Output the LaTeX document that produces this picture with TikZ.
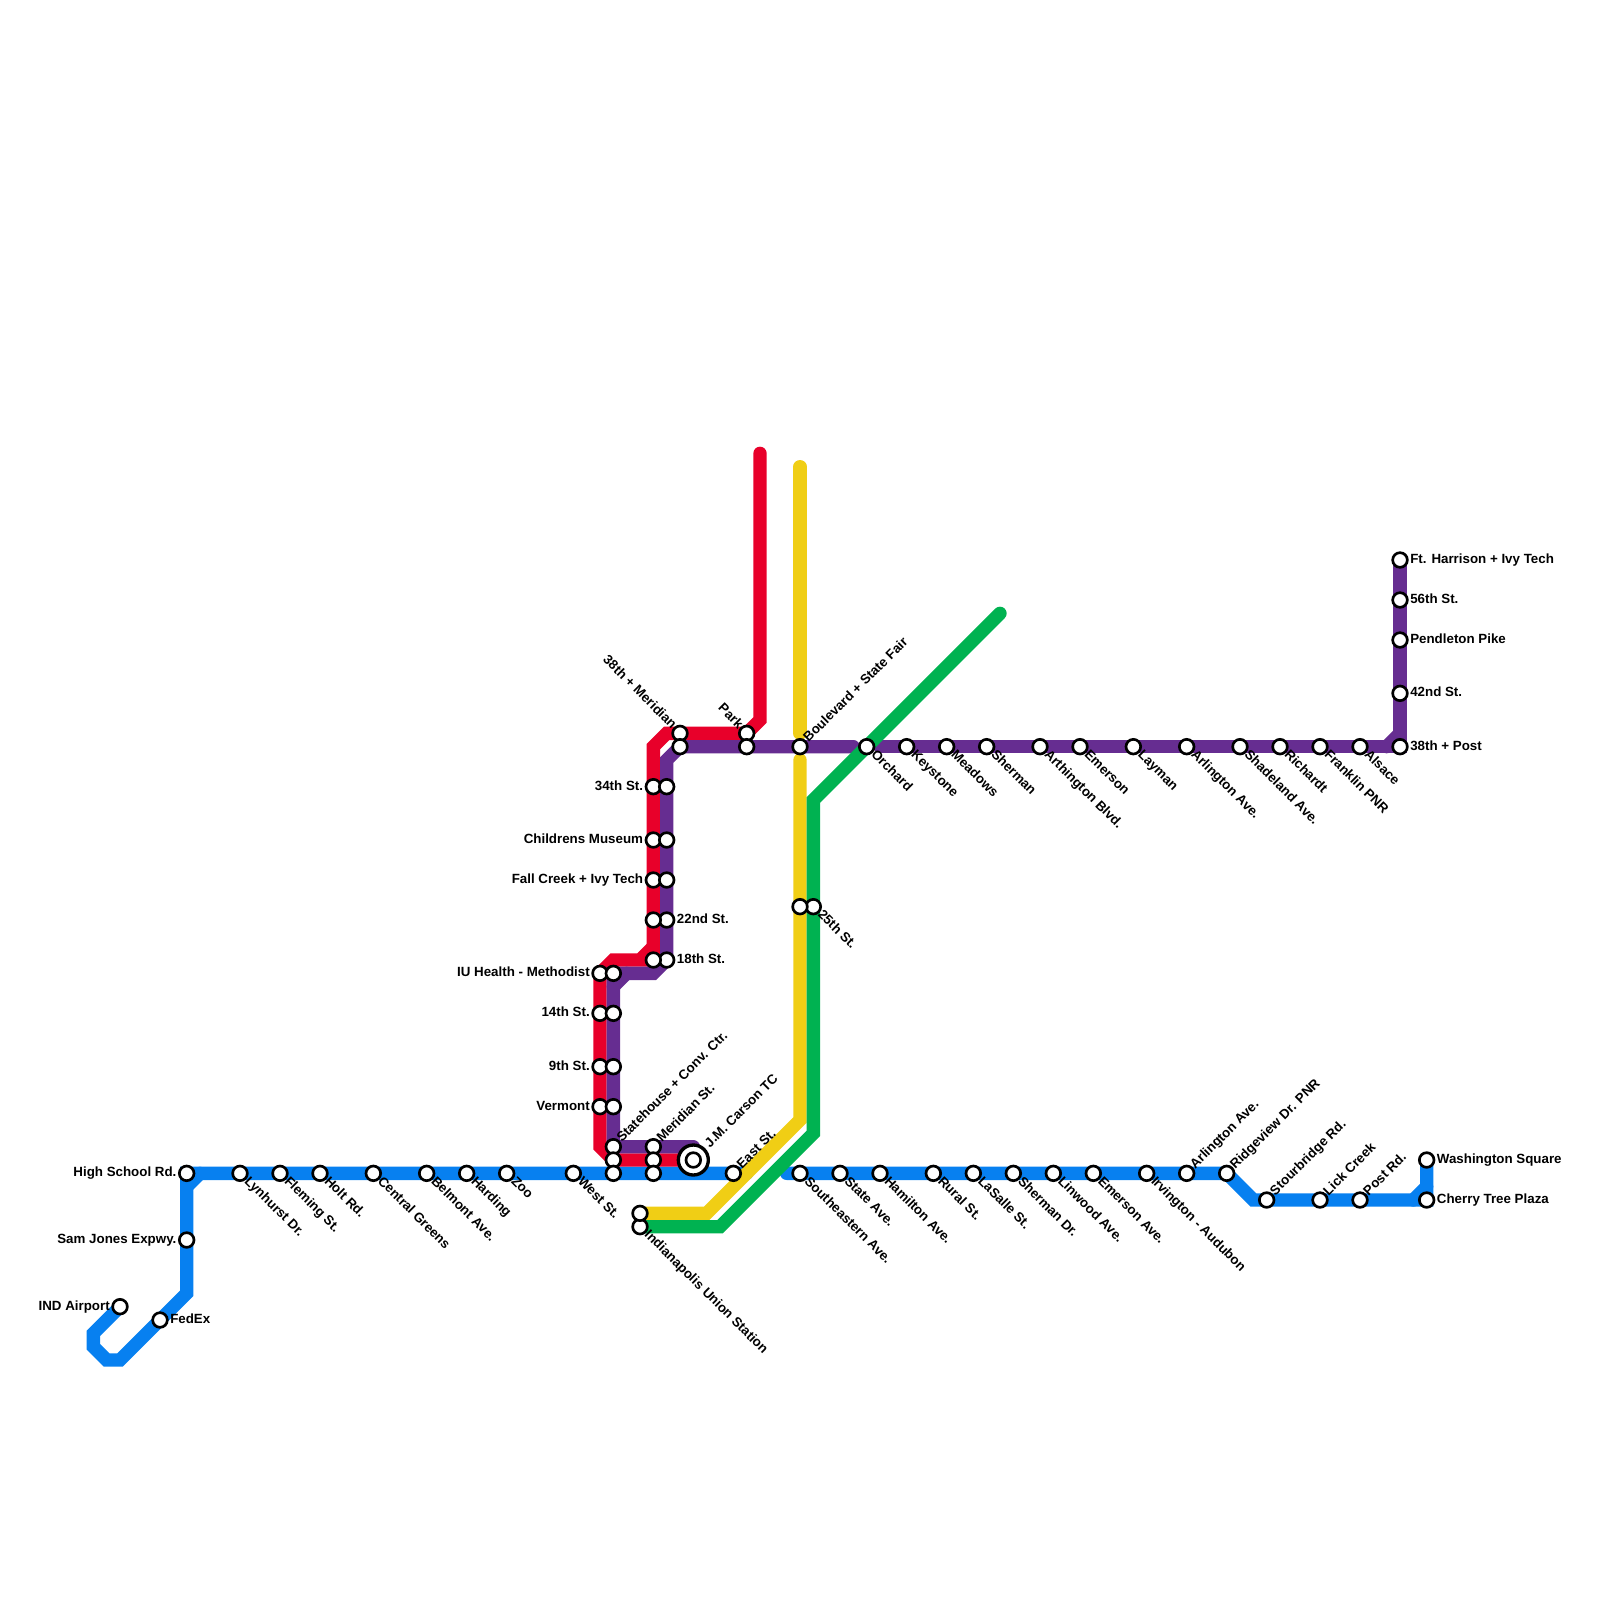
\documentclass[tikz,border=0pt]{standalone}
\usepackage{fontspec}
\setmainfont{Liberation Sans}
\usepackage{xcolor}
\usetikzlibrary{backgrounds}
\definecolor{lineblue}{HTML}{0780F0}
\definecolor{linered}{HTML}{E8002A}
\definecolor{linepurple}{HTML}{662D91}
\definecolor{lineyellow}{HTML}{F0CE15}
\definecolor{linegreen}{HTML}{00B251}
\tikzset{
  stn/.style={circle,draw=black,fill=white,line width=2pt,minimum size=11pt,inner sep=0pt},
  hubstn/.style={circle,draw=black,fill=white,line width=2.5pt,minimum size=22.5pt,inner sep=0pt},
  lbl/.style={font=\fontsize{10}{12}\selectfont\bfseries,inner sep=0pt,text height=7.2pt,text depth=2.1pt},
  lblse/.style={lbl,rotate=-45,anchor=west,xshift=6.5pt},
  lblne/.style={lbl,rotate=45,anchor=west,xshift=6.5pt},
  lblnw/.style={lbl,rotate=-45,anchor=east,xshift=-6.5pt},
  lblr/.style={lbl,anchor=west,xshift=7.5pt},
  lbll/.style={lbl,anchor=east,xshift=-7.5pt},
  route/.style={line width=10pt,line cap=round,line join=miter}
}
\begin{document}
\begin{tikzpicture}[x=10pt,y=-10pt]
  \useasboundingbox (0,0) rectangle (120,120);
  % stations with a name beside them
  \foreach \nm/\x/\y/\s/\n in {
    air/9/98/lbll/IND Airport,fed/12/99/lblr/FedEx,sam/14/93/lbll/Sam Jones Expwy.,hsr/14/88/lbll/High School Rd.,
    b18/18/88/lblse/Lynhurst Dr.,b21/21/88/lblse/Fleming St.,b24/24/88/lblse/Holt Rd.,b28/28/88/lblse/Central Greens,
    b32/32/88/lblse/Belmont Ave.,b35/35/88/lblse/Harding,b38/38/88/lblse/Zoo,b43/43/88/lblse/West St.,
    b55/55/88/lblne/East St.,b60/60/88/lblse/Southeastern Ave.,b63/63/88/lblse/State Ave.,b66/66/88/lblse/Hamilton Ave.,
    b70/70/88/lblse/Rural St.,b73/73/88/lblse/LaSalle St.,b76/76/88/lblse/Sherman Dr.,b79/79/88/lblse/Linwood Ave.,
    b82/82/88/lblse/Emerson Ave.,b86/86/88/lblse/Irvington - Audubon,b89/89/88/lblne/Arlington Ave.,b92/92/88/lblne/Ridgeview Dr. PNR,
    b95/95/90/lblne/Stourbridge Rd.,b99/99/90/lblne/Lick Creek,b102/102/90/lblne/Post Rd.,
    cher/107/90/lblr/Cherry Tree Plaza,wash/107/87/lblr/Washington Square,
    w73/45/73/lbll/IU Health - Methodist,w76/45/76/lbll/14th St.,w80/45/80/lbll/9th St.,w83/45/83/lbll/Vermont,
    v86/46/86/lblne/Statehouse + Conv. Ctr.,t86/49/86/lblne/Meridian St.,
    t59/49/59/lbll/34th St.,t63/49/63/lbll/Childrens Museum,t66/49/66/lbll/Fall Creek + Ivy Tech,
    u69/50/69/lblr/22nd St.,u72/50/72/lblr/18th St.,
    n55/51/55/lblnw/38th + Meridian,k55/56/55/lblnw/Park,y56/60/56/lblne/Boulevard + State Fair,
    g68/61/68/lblse/25th St.,i92/48/92/lblse/Indianapolis Union Station,
    p65/65/56/lblse/Orchard,p68/68/56/lblse/Keystone,p71/71/56/lblse/Meadows,p74/74/56/lblse/Sherman,
    p78/78/56/lblse/Arthington Blvd.,p81/81/56/lblse/Emerson,p85/85/56/lblse/Layman,p89/89/56/lblse/Arlington Ave.,
    p93/93/56/lblse/Shadeland Ave.,p96/96/56/lblse/Richardt,p99/99/56/lblse/Franklin PNR,p102/102/56/lblse/Alsace,
    q56/105/56/lblr/38th + Post,q52/105/52/lblr/42nd St.,q48/105/48/lblr/Pendleton Pike,q45/105/45/lblr/56th St.,q42/105/42/lblr/Ft. Harrison + Ivy Tech}{
    \node[stn] (\nm) at (\x,\y) {};
    \node[\s] (l\nm) at (\nm) {\n};
  }
  % stations with no name
  \foreach \nm/\x/\y in {v73/46/73,v76/46/76,v80/46/80,v83/46/83,v87/46/87,b46/46/88,t87/49/87,b49/49/88,
    t69/49/69,t72/49/72,u59/50/59,u63/50/63,u66/50/66,n56/51/56,k56/56/56,y68/60/68,i91/48/91}
    \node[stn] (\nm) at (\x,\y) {};
  \node[hubstn] (hub) at (52,87) {};
  \node[stn] (jmc) at (hub) {};
  \node[lblne,xshift=8.5pt] (ljmc) at (jmc) {J.M. Carson TC};
  % corners and loose ends of the routes
  \foreach \nm/\p in {bA/{7,100},bB/{7,101},bC/{8,102},bD/{9,102},bE/{14,97},bF/{14,89},bG/{15,88},bH/{56,88},bJ/{59,88},
    bK/{94,90},bL/{106,90},bM/{107,89},
    rA/{45,86},rB/{46,72},rC/{48,72},rD/{49,71},rE/{49,56},rF/{50,55},rG/{57,54},rH/{57,34},
    pA/{49,73},pB/{50,57},pC/{64,56},pD/{66,56},pE/{52,86},pF/{104,56},pG/{105,55},pH/{46,74},pJ/{47,73},
    yA/{60,35},yB/{60,55},yC/{60,57},yD/{60,84},yE/{53,91},
    gA/{54,92},gB/{61,85},gC/{61,60},gD/{75,46}}
    \coordinate (\nm) at (\p);
  \begin{scope}[on background layer]
    \draw[route,lineblue] (air.center) -- (bA) -- (bB) -- (bC) -- (bD) -- (bE) -- (hsr.center) -- (bH);
    \draw[route,lineblue] (bF) -- (bG);
    \draw[route,lineblue] (bJ) -- (b92.center) -- (bK) -- (cher.center) -- (wash.center);
    \draw[route,lineblue] (bL) -- (bM);
    \draw[route,linered] (jmc.center) -- (v87.center) -- (rA) -- (w73.center) -- (rB) -- (rC) -- (t72.center) -- (rD) -- (rC);
    \draw[route,linered] (t72.center) -- (rE) -- (rF) -- (k55.center) -- (rG) -- (rH);
    \draw[route,linepurple] (pE) -- (v86.center) -- (v73.center) -- (pA) -- (u72.center) -- (pB) -- (n56.center) -- (pC);
    \draw[route,linepurple] (pH) -- (pJ);
    \draw[route,linepurple] (pD) -- (q56.center) -- (q42.center);
    \draw[route,linepurple] (pF) -- (pG);
    \draw[route,lineyellow] (yA) -- (yB);
    \draw[route,lineyellow] (yC) -- (yD) -- (yE) -- (i91.center);
    \draw[route,linegreen] (i92.center) -- (gA) -- (gB) -- (gC) -- (gD);
  \end{scope}
\end{tikzpicture}
\end{document}
